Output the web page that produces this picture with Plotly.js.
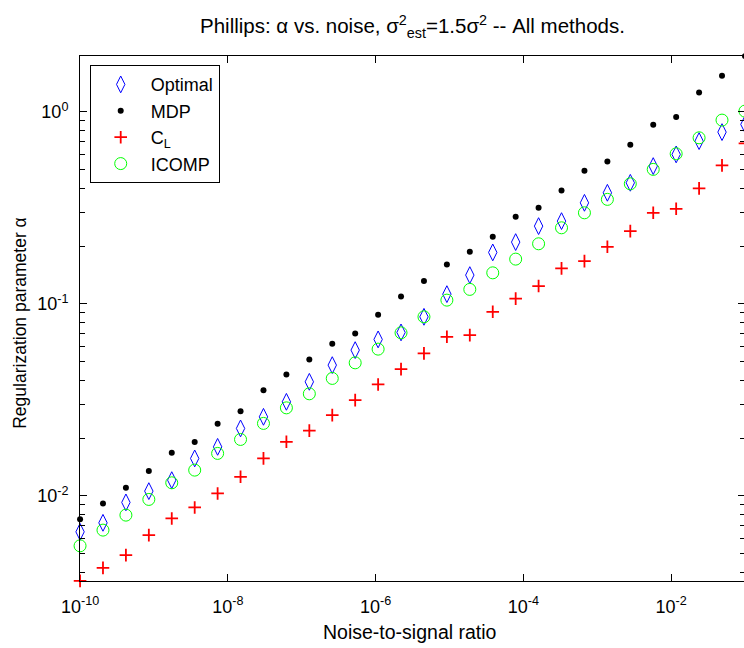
<!DOCTYPE html>
<html>
<head>
<meta charset="utf-8">
<script src="https://cdn.plot.ly/plotly-3.0.1.min.js"></script>
<style>
html, body { margin: 0; padding: 0; overflow: hidden; background: #fff; }
#chart { width: 746px; height: 648px; }
</style>
</head>
<body>
<div id="chart"></div>
<script>
// Noise-to-signal ratio (x)
const noiseRatio = [1e-10, 2.043e-10, 4.175e-10, 8.532e-10, 1.743e-9, 3.562e-9, 7.279e-9, 1.487e-8, 3.039e-8, 6.210e-8,
  1.269e-7, 2.593e-7, 5.298e-7, 1.083e-6, 2.212e-6, 4.520e-6, 9.237e-6, 1.887e-5, 3.857e-5, 7.880e-5,
  1.610e-4, 3.290e-4, 6.723e-4, 1.374e-3, 2.807e-3, 5.736e-3, 1.172e-2, 2.395e-2, 4.894e-2, 1e-1];

// Regularization parameter alpha for each method
const alphaOptimal = [0.006494, 0.007234, 0.009240, 0.01058, 0.01207, 0.01566, 0.01799, 0.02244, 0.02579, 0.03087,
  0.03924, 0.04794, 0.05739, 0.06526, 0.07097, 0.08556, 0.1123, 0.1411, 0.1852, 0.2096,
  0.2539, 0.2696, 0.3357, 0.3786, 0.4268, 0.5215, 0.6000, 0.7036, 0.7839, 0.8599];
const alphaMDP = [0.00756, 0.00913, 0.01101, 0.01345, 0.01675, 0.01905, 0.02371, 0.02761, 0.03552, 0.04288,
  0.05134, 0.06188, 0.07013, 0.08765, 0.1093, 0.1313, 0.1604, 0.1866, 0.2233, 0.2838,
  0.3162, 0.3897, 0.4929, 0.5516, 0.6731, 0.8557, 0.9384, 1.262, 1.540, 1.950];
const alphaCL = [0.003608, 0.004217, 0.004910, 0.006244, 0.007624, 0.008701, 0.01029, 0.01256, 0.01566, 0.01911,
  0.02186, 0.02632, 0.03151, 0.03803, 0.04570, 0.05516, 0.06731, 0.06871, 0.09085, 0.1064,
  0.1237, 0.1529, 0.1669, 0.1981, 0.2391, 0.2978, 0.3125, 0.3991, 0.5257, 0.6845];
const alphaICOMP = [0.005490, 0.006629, 0.007933, 0.009577, 0.01169, 0.01361, 0.01663, 0.01966, 0.02383, 0.02872,
  0.03399, 0.04088, 0.04928, 0.05807, 0.07063, 0.08556, 0.1045, 0.1189, 0.1450, 0.1709,
  0.2054, 0.2488, 0.2978, 0.3499, 0.4217, 0.5012, 0.6043, 0.7320, 0.9052, 1.008];

const seriesNames = ["Optimal", "MDP", "C<sub>L</sub>", "ICOMP"];

// Tick labels
const xTickVals = [1e-10, 1e-8, 1e-6, 1e-4, 1e-2];
const xTickText = ["10<sup>-10</sup>", "10<sup>-8</sup>", "10<sup>-6</sup>", "10<sup>-4</sup>", "10<sup>-2</sup>"];
const yTickVals = [1e-2, 1e-1, 1e0];
const yTickText = ["10<sup>-2</sup>", "10<sup>-1</sup>", "10<sup>0</sup>"];
const yMinorTickVals = [0.004, 0.005, 0.006, 0.007, 0.008, 0.009,
  0.02, 0.03, 0.04, 0.05, 0.06, 0.07, 0.08, 0.09,
  0.2, 0.3, 0.4, 0.5, 0.6, 0.7, 0.8, 0.9];

const FONT = "Liberation Sans, Arial, Helvetica, sans-serif";

const traces = [
  { x: noiseRatio, y: alphaOptimal, name: seriesNames[0], type: "scatter", mode: "markers", cliponaxis: false,
    marker: { symbol: "diamond-tall-open", size: 12, color: "#0000ff", line: { width: 1, color: "#0000ff" } } },
  { x: noiseRatio, y: alphaMDP, name: seriesNames[1], type: "scatter", mode: "markers", cliponaxis: false,
    marker: { symbol: "circle", size: 6, color: "#000000" } },
  { x: noiseRatio, y: alphaCL, name: seriesNames[2], type: "scatter", mode: "markers", cliponaxis: false,
    marker: { symbol: "cross-thin-open", size: 9, color: "#ff0000", line: { width: 1.8, color: "#ff0000" } } },
  { x: noiseRatio, y: alphaICOMP, name: seriesNames[3], type: "scatter", mode: "markers", cliponaxis: false,
    marker: { symbol: "circle-open", size: 12, color: "#00ff00", line: { width: 1, color: "#00ff00" } } }
];

const layout = {
  width: 746, height: 648,
  margin: { l: 80, r: 1, t: 56, b: 67 },
  paper_bgcolor: "#ffffff", plot_bgcolor: "#ffffff",
  font: { family: FONT, size: 18, color: "#000000" },
  showlegend: true,
  title: {
    text: "Phillips: α vs. noise, σ<sup>2</sup><sub>est</sub>=1.5σ<sup>2</sup> -- All methods.",
    font: { family: FONT, size: 20.5, color: "#000000" },
    x: 0.5, xref: "paper", xanchor: "center",
    y: 1 - 19 / 648, yref: "container", yanchor: "top"
  },
  xaxis: {
    type: "log", range: [-10.0008, -0.9992], autorange: false,
    tickmode: "array", tickvals: xTickVals, ticktext: xTickText,
    ticks: "inside", ticklen: 7, tickwidth: 1, tickcolor: "#000",
    showline: true, linecolor: "#000", linewidth: 1, mirror: "allticks",
    showgrid: false, zeroline: false,
    tickfont: { family: FONT, size: 18, color: "#000" },
    ticklabelstandoff: 9
  },
  yaxis: {
    type: "log", range: [-2.4436, 0.2906], autorange: false,
    tickmode: "array", tickvals: yTickVals, ticktext: yTickText,
    ticks: "inside", ticklen: 7, tickwidth: 1, tickcolor: "#000",
    minor: { tickmode: "array", tickvals: yMinorTickVals, ticks: "inside", ticklen: 5, tickwidth: 1, tickcolor: "#000", showgrid: false },
    showline: true, linecolor: "#000", linewidth: 1, mirror: "allticks",
    showgrid: false, zeroline: false,
    tickfont: { family: FONT, size: 18, color: "#000" },
    ticklabelstandoff: 7
  },
  legend: {
    x: 0.0146, y: 0.9825, xanchor: "left", yanchor: "top",
    bgcolor: "#ffffff", bordercolor: "#000000", borderwidth: 1,
    font: { family: FONT, size: 18, color: "#000" },
    itemwidth: 50, tracegroupgap: 0
  },
  annotations: [
    { text: "Noise-to-signal ratio", xref: "paper", yref: "paper", x: 0.496, y: -0.072,
      xanchor: "center", yanchor: "top", showarrow: false, font: { family: FONT, size: 19.5, color: "#000" } },
    { text: "Regularization parameter α", xref: "paper", yref: "paper", x: -0.0902, y: 0.49,
      xanchor: "center", yanchor: "middle", textangle: -90, showarrow: false, font: { family: FONT, size: 17.5, color: "#000" } }
  ]
};

Plotly.newPlot("chart", traces, layout, { displayModeBar: false, staticPlot: true });
</script>
</body>
</html>
